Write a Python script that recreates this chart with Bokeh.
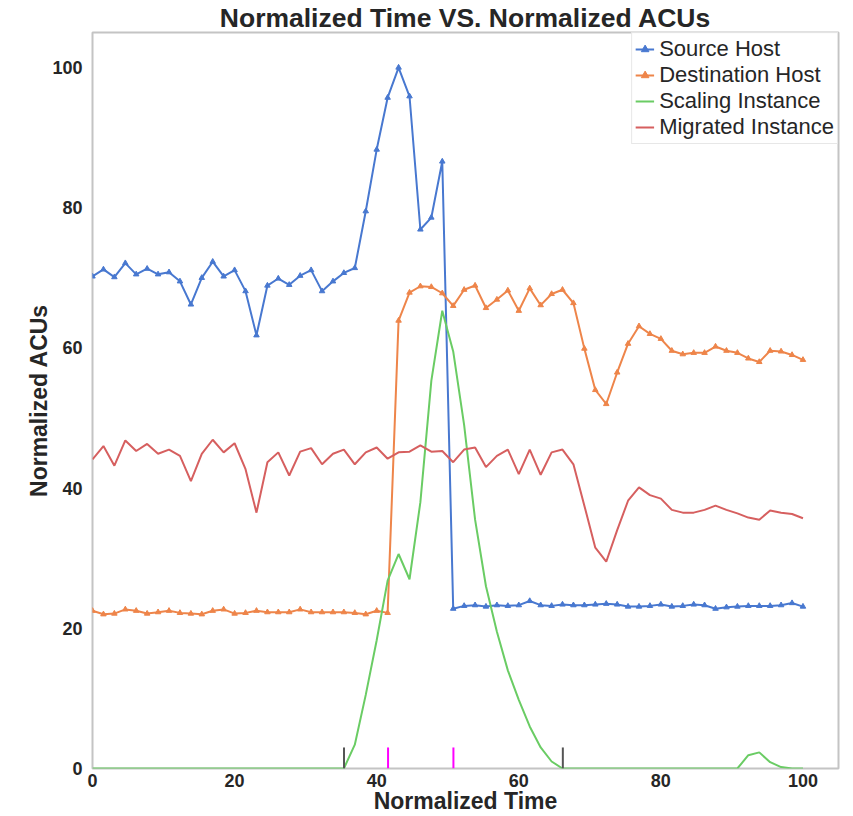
from bokeh.plotting import figure
from bokeh.models import Range1d, ColumnDataSource
from bokeh.embed import file_html
from bokeh.resources import INLINE

# ---- data ----
normalized_time = [0.0, 1.54, 3.08, 4.62, 6.15, 7.69, 9.23, 10.77, 12.31, 13.85,
                   15.38, 16.92, 18.46, 20.0, 21.54, 23.08, 24.62, 26.15, 27.69, 29.23,
                   30.77, 32.31, 33.85, 35.38, 36.92, 38.46, 40.0, 41.54, 43.08, 44.62,
                   46.15, 47.69, 49.23, 50.77, 52.31, 53.85, 55.38, 56.92, 58.46, 60.0,
                   61.54, 63.08, 64.62, 66.15, 67.69, 69.23, 70.77, 72.31, 73.85, 75.38,
                   76.92, 78.46, 80.0, 81.54, 83.08, 84.62, 86.15, 87.69, 89.23, 90.77,
                   92.31, 93.85, 95.38, 96.92, 98.46, 100.0]

source_host = [70.2, 71.2, 70.1, 72.1, 70.5, 71.3, 70.5, 70.8, 69.5, 66.2,
               70.0, 72.3, 70.2, 71.1, 68.1, 61.8, 68.9, 69.9, 69.0, 70.3,
               71.1, 68.1, 69.5, 70.7, 71.4, 79.5, 88.3, 95.7, 100.0, 95.9,
               76.9, 78.6, 86.6, 22.8, 23.2, 23.3, 23.1, 23.3, 23.2, 23.3,
               23.9, 23.3, 23.2, 23.4, 23.3, 23.3, 23.4, 23.5, 23.4, 23.1,
               23.1, 23.2, 23.4, 23.1, 23.2, 23.4, 23.3, 22.8, 23.0, 23.1,
               23.2, 23.2, 23.2, 23.3, 23.6, 23.1]

destination_host = [22.5, 22.0, 22.1, 22.7, 22.5, 22.1, 22.3, 22.5, 22.2, 22.1,
                    22.0, 22.5, 22.7, 22.1, 22.2, 22.5, 22.3, 22.3, 22.3, 22.7,
                    22.3, 22.3, 22.3, 22.3, 22.2, 22.0, 22.5, 22.2, 63.9, 67.9,
                    68.8, 68.7, 67.8, 66.0, 68.3, 68.9, 65.7, 66.9, 68.2, 65.3,
                    68.5, 66.1, 67.7, 68.3, 66.4, 59.9, 54.0, 52.0, 56.5, 60.6,
                    63.1, 62.0, 61.3, 59.6, 59.1, 59.3, 59.3, 60.2, 59.6, 59.3,
                    58.5, 58.0, 59.6, 59.5, 59.0, 58.3]

scaling_instance = [0, 0, 0, 0, 0, 0, 0, 0, 0, 0,
                    0, 0, 0, 0, 0, 0, 0, 0, 0, 0,
                    0, 0, 0, 0.0, 3.4, 10.5, 18.3, 26.8, 30.6, 27.0,
                    38.0, 55.3, 65.3, 59.5, 49.0, 35.5, 26.0, 19.5, 14.0, 9.8,
                    6.0, 3.0, 1.0, 0, 0, 0, 0, 0, 0, 0,
                    0, 0, 0, 0, 0, 0, 0, 0, 0, 0,
                    1.9, 2.3, 0.9, 0.2, 0, 0]

migrated_instance = [44.1, 46.0, 43.2, 46.8, 45.3, 46.3, 44.9, 45.5, 44.6, 41.0,
                     44.9, 46.9, 45.1, 46.4, 42.7, 36.5, 43.7, 45.1, 41.8, 45.2,
                     45.7, 43.4, 44.9, 45.5, 43.4, 45.1, 45.8, 44.2, 45.1, 45.2,
                     46.1, 45.2, 45.3, 43.7, 45.5, 45.8, 43.0, 44.6, 45.5, 42.0,
                     45.5, 41.9, 45.1, 45.5, 43.4, 37.5, 31.5, 29.5, 34.0, 38.2,
                     40.1, 39.0, 38.5, 36.9, 36.5, 36.5, 36.9, 37.5, 36.9, 36.4,
                     35.8, 35.5, 36.8, 36.5, 36.3, 35.7]

event_time = [35.4, 41.6, 50.8, 66.2]
event_height = [3.0, 3.0, 3.0, 3.0]
event_base = [0.0, 0.0, 0.0, 0.0]
event_color = ["#555555", "#ff00ff", "#ff00ff", "#555555"]

x_ticks = [0, 20, 40, 60, 80, 100]
y_ticks = [0, 20, 40, 60, 80, 100]

BLUE, ORANGE, GREEN, RED = "#4878d0", "#ee854a", "#6acc64", "#d65f5f"
FONT = "Liberation Sans"
TXT = "#262626"

p = figure(width=853, height=816, x_range=Range1d(0, 105), y_range=Range1d(0, 105),
           output_backend="svg", toolbar_location=None,
           title="Normalized Time VS. Normalized ACUs",
           x_axis_label="Normalized Time", y_axis_label="Normalized ACUs")

p.min_border_left = 92
p.min_border_right = 15
p.min_border_top = 32
p.min_border_bottom = 47

p.title.text_font = FONT
p.title.text_font_size = "26.5px"
p.title.text_font_style = "bold"
p.title.text_color = TXT
p.title.align = "center"
p.title.standoff = 0
p.title.offset = 0

p.xgrid.visible = False
p.ygrid.visible = False
p.outline_line_color = "#c4c4c4"
p.outline_line_width = 2
p.background_fill_color = "white"
p.border_fill_color = "white"

p.xaxis.ticker = x_ticks
p.yaxis.ticker = y_ticks
for ax in (p.xaxis[0], p.yaxis[0]):
    ax.axis_line_color = None
    ax.major_tick_line_color = None
    ax.minor_tick_line_color = None
    ax.major_tick_out = 0
    ax.major_tick_in = 0
    ax.major_label_text_font = FONT
    ax.major_label_text_font_size = "18px"
    ax.major_label_text_font_style = "bold"
    ax.major_label_text_color = TXT
    ax.axis_label_text_font = FONT
    ax.axis_label_text_font_size = "23px"
    ax.axis_label_text_font_style = "bold"
    ax.axis_label_text_color = TXT
p.xaxis.major_label_standoff = 5
p.xaxis.axis_label_standoff = -2
p.yaxis.major_label_standoff = 10
p.yaxis.axis_label_standoff = -3

src = ColumnDataSource(dict(t=normalized_time, s=source_host, d=destination_host,
                            sc=scaling_instance, m=migrated_instance))

p.line("t", "s", source=src, color=BLUE, line_width=2, legend_label="Source Host")
p.scatter("t", "s", source=src, marker="triangle", size=5.5, color=BLUE, legend_label="Source Host")
p.line("t", "d", source=src, color=ORANGE, line_width=2, legend_label="Destination Host")
p.scatter("t", "d", source=src, marker="triangle", size=5.5, color=ORANGE, legend_label="Destination Host")
p.line("t", "sc", source=src, color=GREEN, line_width=2, legend_label="Scaling Instance")
p.line("t", "m", source=src, color=RED, line_width=2, legend_label="Migrated Instance")

ev = ColumnDataSource(dict(x=event_time, y0=event_base, y1=event_height, c=event_color))
p.segment(x0="x", y0="y0", x1="x", y1="y1", source=ev, line_color="c", line_width=2)

lg = p.legend[0]
lg.location = "top_right"
lg.margin = 0
lg.padding = 3
lg.spacing = 0
lg.label_height = 25
lg.glyph_height = 20
lg.glyph_width = 19
lg.label_standoff = 5
lg.label_text_font = FONT
lg.label_text_font_size = "22px"
lg.label_text_line_height = 1.0
lg.label_text_color = TXT
lg.border_line_color = "#d0d0d0"
lg.border_line_width = 1
lg.background_fill_color = "white"
lg.background_fill_alpha = 0.9

open("out.html", "w").write(file_html(p, INLINE))
